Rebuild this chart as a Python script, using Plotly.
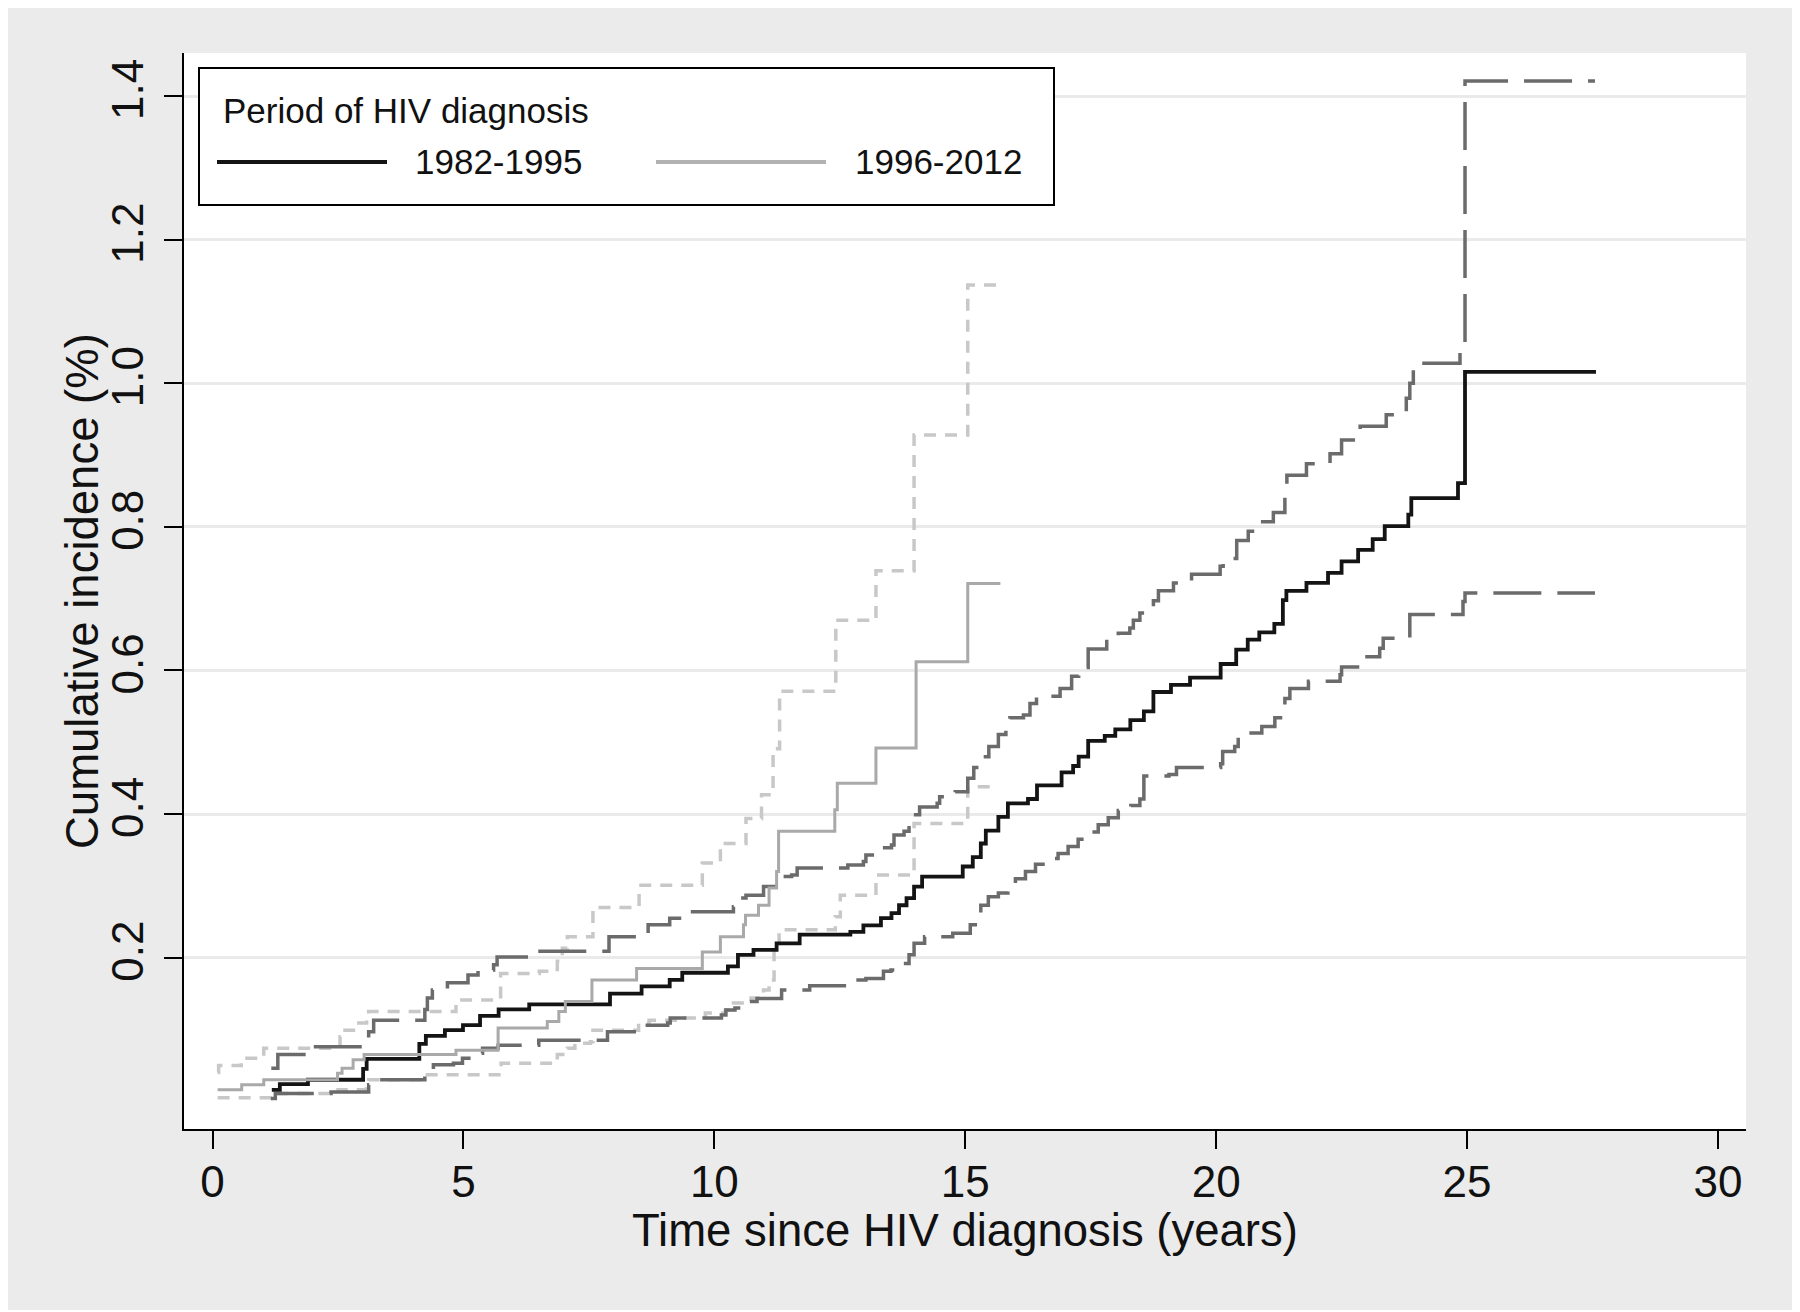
import plotly.graph_objects as go

# ---------------- data ----------------
periods = ["1982-1995", "1996-2012"]
legend_title = "Period of HIV diagnosis"
x_title = "Time since HIV diagnosis (years)"
y_title = "Cumulative incidence (%)"
x_ticks = [0, 5, 10, 15, 20, 25, 30]
y_ticks = [0.2, 0.4, 0.6, 0.8, 1.0, 1.2, 1.4]
y_tick_labels = ["0.2", "0.4", "0.6", "0.8", "1.0", "1.2", "1.4"]

# 1982-1995 : estimate
est1_t = [1.18, 1.34, 1.90, 3.00, 3.07, 4.12, 4.25, 4.63, 4.99, 5.33, 5.70, 6.31, 7.92, 8.55, 9.11, 9.36,
          10.27, 10.47, 10.78, 11.24, 11.70, 12.71, 12.97, 13.32, 13.53, 13.68, 13.83, 13.98, 14.14, 14.95,
          15.15, 15.31, 15.41, 15.66, 15.85, 16.25, 16.43, 16.92, 17.15, 17.26, 17.45, 17.78, 17.99, 18.29,
          18.56, 18.75, 19.10, 19.48, 20.09, 20.40, 20.63, 20.86, 21.16, 21.33, 21.40, 21.80, 22.23, 22.50,
          22.83, 23.12, 23.36, 23.83, 23.89, 24.82, 24.96, 27.57]
est1_y = [0.016, 0.024, 0.030, 0.045, 0.059, 0.080, 0.091, 0.099, 0.106, 0.119, 0.128, 0.135, 0.150, 0.160,
          0.169, 0.179, 0.188, 0.204, 0.211, 0.220, 0.232, 0.236, 0.245, 0.255, 0.262, 0.273, 0.283, 0.299,
          0.313, 0.327, 0.340, 0.359, 0.377, 0.396, 0.415, 0.421, 0.440, 0.458, 0.467, 0.480, 0.502, 0.509,
          0.518, 0.531, 0.543, 0.570, 0.580, 0.590, 0.609, 0.629, 0.643, 0.653, 0.665, 0.698, 0.711, 0.722,
          0.736, 0.752, 0.768, 0.783, 0.801, 0.817, 0.840, 0.861, 1.016, 1.016]

# 1982-1995 : upper confidence limit
hi1_t = [1.17, 1.30, 2.00, 3.11, 3.21, 4.23, 4.28, 4.38, 4.68, 5.09, 5.29, 5.60, 5.67, 6.32, 7.90, 8.55,
         8.68, 9.11, 9.41, 10.38, 10.48, 10.63, 10.98, 11.29, 11.54, 11.65, 12.66, 12.97, 13.02, 13.32,
         13.53, 13.58, 13.78, 13.88, 13.93, 14.09, 14.44, 14.49, 14.80, 15.05, 15.17, 15.36, 15.47, 15.66,
         15.81, 15.89, 16.16, 16.29, 16.42, 16.89, 17.12, 17.26, 17.45, 17.82, 18.05, 18.28, 18.35, 18.48,
         18.75, 18.85, 19.15, 19.51, 20.08, 20.14, 20.41, 20.64, 20.87, 21.14, 21.37, 21.41, 21.80, 22.27,
         22.50, 22.87, 23.39, 23.79, 23.86, 23.93, 24.86, 24.96, 27.55]
hi1_y = [0.046, 0.065, 0.076, 0.097, 0.113, 0.128, 0.144, 0.155, 0.165, 0.176, 0.183, 0.190, 0.201, 0.209,
         0.229, 0.234, 0.246, 0.255, 0.264, 0.271, 0.283, 0.287, 0.299, 0.313, 0.315, 0.325, 0.329, 0.334,
         0.343, 0.353, 0.357, 0.371, 0.376, 0.387, 0.399, 0.410, 0.415, 0.424, 0.431, 0.450, 0.465, 0.480,
         0.494, 0.511, 0.521, 0.534, 0.538, 0.554, 0.564, 0.575, 0.592, 0.604, 0.630, 0.643, 0.652, 0.659,
         0.670, 0.680, 0.697, 0.711, 0.722, 0.734, 0.745, 0.756, 0.781, 0.794, 0.807, 0.820, 0.851, 0.872,
         0.888, 0.902, 0.921, 0.940, 0.956, 0.979, 1.000, 1.028, 1.056, 1.421, 1.421]

# 1982-1995 : lower confidence limit
lo1_t = [1.16, 1.25, 2.36, 3.11, 3.16, 4.23, 4.40, 4.80, 4.98, 5.16, 5.38, 5.69, 6.50, 7.87, 8.58, 9.07,
         9.12, 10.14, 10.23, 10.41, 10.59, 10.85, 11.34, 11.90, 12.71, 12.75, 13.02, 13.37, 13.52, 13.68,
         13.88, 13.98, 14.19, 14.75, 15.10, 15.20, 15.31, 15.46, 15.66, 15.85, 16.00, 16.20, 16.40, 16.60,
         16.85, 17.05, 17.25, 17.45, 17.65, 17.85, 18.05, 18.30, 18.48, 18.56, 19.06, 19.21, 20.09, 20.13,
         20.37, 20.44, 20.64, 20.91, 21.17, 21.37, 21.47, 21.84, 22.47, 22.50, 22.87, 23.26, 23.33, 23.86,
         24.92, 24.96, 27.55]
lo1_y = [0.004, 0.011, 0.013, 0.023, 0.030, 0.039, 0.051, 0.053, 0.060, 0.067, 0.074, 0.078, 0.085, 0.097,
         0.106, 0.109, 0.116, 0.120, 0.127, 0.130, 0.139, 0.143, 0.155, 0.161, 0.164, 0.169, 0.171, 0.181,
         0.183, 0.192, 0.204, 0.220, 0.229, 0.234, 0.246, 0.260, 0.273, 0.285, 0.290, 0.300, 0.310, 0.320,
         0.330, 0.338, 0.345, 0.355, 0.365, 0.375, 0.385, 0.395, 0.405, 0.412, 0.421, 0.453, 0.455, 0.465,
         0.470, 0.487, 0.494, 0.508, 0.513, 0.522, 0.534, 0.561, 0.575, 0.585, 0.594, 0.605, 0.619, 0.631,
         0.645, 0.678, 0.696, 0.708, 0.708]

# 1996-2012 : estimate
est2_t = [0.10, 0.58, 1.02, 2.49, 2.58, 2.80, 3.02, 4.85, 5.69, 6.67, 6.90, 7.03, 7.56, 8.45, 9.76, 10.12,
          10.58, 10.62, 10.88, 11.09, 11.24, 11.28, 12.40, 12.45, 13.22, 14.02, 15.05, 15.70]
est2_y = [0.016, 0.023, 0.030, 0.039, 0.046, 0.058, 0.065, 0.071, 0.102, 0.111, 0.125, 0.139, 0.169, 0.185,
          0.208, 0.229, 0.246, 0.259, 0.273, 0.297, 0.320, 0.376, 0.406, 0.443, 0.492, 0.612, 0.721, 0.721]

# 1996-2012 : upper confidence limit
hi2_t = [0.10, 0.12, 0.57, 1.02, 2.54, 2.60, 2.85, 3.07, 3.11, 4.85, 5.74, 6.51, 6.87, 6.97, 7.07, 7.58,
         8.50, 9.76, 10.12, 10.63, 10.94, 11.17, 11.30, 12.42, 13.22, 13.98, 15.05, 15.66]
hi2_y = [0.040, 0.050, 0.060, 0.074, 0.090, 0.099, 0.109, 0.118, 0.125, 0.141, 0.178, 0.181, 0.195, 0.213,
         0.229, 0.270, 0.301, 0.332, 0.359, 0.394, 0.427, 0.491, 0.571, 0.670, 0.739, 0.928, 1.137, 1.137]

# 1996-2012 : lower confidence limit
lo2_t = [0.10, 1.18, 2.50, 3.06, 3.11, 4.23, 5.75, 6.87, 7.07, 7.22, 7.53, 7.58, 8.49, 8.70, 9.31, 9.82,
         10.22, 10.38, 10.73, 10.98, 11.09, 11.19, 11.29, 12.41, 12.51, 13.22, 13.98, 15.05, 15.66]
lo2_y = [0.005, 0.011, 0.016, 0.023, 0.030, 0.037, 0.053, 0.065, 0.074, 0.081, 0.083, 0.099, 0.109, 0.113,
         0.116, 0.123, 0.127, 0.137, 0.144, 0.155, 0.169, 0.211, 0.239, 0.257, 0.287, 0.315, 0.387, 0.438,
         0.438]

# ---------------- styling ----------------
OFF = 8                      # page body margin of the html page
W, H = 1800 - OFF, 1312 - OFF
ML, MR, MT, MB = 176, 54, 45, 183
PW, PH = W - ML - MR, H - MT - MB
FONT = "Liberation Sans, Arial, Helvetica, sans-serif"
TXT = "#111111"
BLACK = "#141414"
DARK = "#6B6B6B"
MID = "#A9A9A9"
LIGHT = "#C8C8C8"


def fx(x):
    """screen px -> paper coordinate"""
    return (x - OFF - ML) / PW


def fy(y):
    return (H - MB - (y - OFF)) / PH


fig = go.Figure()

series = [
    (lo2_t, lo2_y, LIGHT, 3.5, "12px,9px"),
    (hi2_t, hi2_y, LIGHT, 3.5, "12px,9px"),
    (lo1_t, lo1_y, DARK, 3.5, "48px,16px"),
    (hi1_t, hi1_y, DARK, 3.5, "48px,16px"),
    (est1_t, est1_y, BLACK, 3.8, "solid"),
    (est2_t, est2_y, MID, 3.0, "solid"),
]
for t, y, col, w, dash in series:
    fig.add_trace(go.Scatter(x=t, y=y, mode="lines", line=dict(shape="hv", color=col, width=w, dash=dash),
                             showlegend=False, hoverinfo="skip"))

fig.update_layout(
    width=W, height=H,
    margin=dict(l=ML, r=MR, t=MT, b=MB, pad=0),
    paper_bgcolor="#EBEBEB",
    plot_bgcolor="white",
    font=dict(family=FONT, color=TXT),
    showlegend=False,
)
fig.update_xaxes(
    range=[-0.57, 30.56], tickvals=x_ticks, ticks="outside", ticklen=18, tickwidth=1.6, tickcolor="black",
    showline=True, linecolor="black", linewidth=2, showgrid=False, zeroline=False,
    tickfont=dict(size=44, family=FONT, color=TXT), ticklabelstandoff=-5,
)
fig.update_yaxes(
    range=[-0.0386, 1.46], tickvals=y_ticks, ticktext=y_tick_labels, tickangle=-90,
    ticks="outside", ticklen=18, tickwidth=1.6, tickcolor="black",
    showline=True, linecolor="black", linewidth=2, showgrid=True, gridcolor="#EAEAEA", gridwidth=3,
    zeroline=False,
    tickfont=dict(size=44, family=FONT, color=TXT), ticklabelstandoff=3,
)

shapes = []
# thin white band on the right and bottom edges of the graph region
shapes.append(dict(type="rect", xref="paper", yref="paper", x0=fx(1795), x1=fx(1810), y0=fy(1320), y1=fy(0),
                   line=dict(width=0), fillcolor="white", layer="above"))
shapes.append(dict(type="rect", xref="paper", yref="paper", x0=fx(0), x1=fx(1810), y0=fy(1320), y1=fy(1310),
                   line=dict(width=0), fillcolor="white", layer="above"))
# legend box
shapes.append(dict(type="rect", xref="paper", yref="paper", x0=fx(199), x1=fx(1054), y0=fy(205), y1=fy(68),
                   line=dict(color="black", width=2), fillcolor="white", layer="above"))
# legend samples
shapes.append(dict(type="line", xref="paper", yref="paper", x0=fx(217), x1=fx(387), y0=fy(162), y1=fy(162),
                   line=dict(color=BLACK, width=4), layer="above"))
shapes.append(dict(type="line", xref="paper", yref="paper", x0=fx(656), x1=fx(826), y0=fy(162), y1=fy(162),
                   line=dict(color="#B2B2B2", width=4), layer="above"))
fig.update_layout(shapes=shapes)

ann = [
    dict(text=legend_title, x=fx(221), y=fy(110), xanchor="left", yanchor="middle",
         font=dict(size=35, family=FONT, color=TXT)),
    dict(text=periods[0], x=fx(413), y=fy(162), xanchor="left", yanchor="middle",
         font=dict(size=35, family=FONT, color=TXT)),
    dict(text=periods[1], x=fx(853), y=fy(162), xanchor="left", yanchor="middle",
         font=dict(size=35, family=FONT, color=TXT)),
    # axis titles
    dict(text=x_title, x=fx(965), y=fy(1230), xanchor="center", yanchor="middle",
         font=dict(size=45.5, family=FONT, color=TXT)),
    dict(text=y_title, x=fx(82), y=fy(591), xanchor="center", yanchor="middle", textangle=-90,
         font=dict(size=45.5, family=FONT, color=TXT)),
]
for a in ann:
    a.update(xref="paper", yref="paper", showarrow=False)
fig.update_layout(annotations=ann)

fig.write_html("out.html")
